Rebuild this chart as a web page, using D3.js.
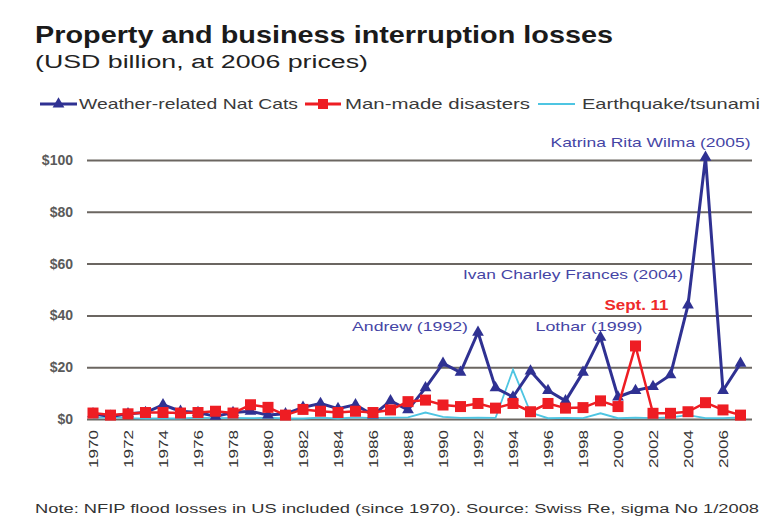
<!DOCTYPE html>
<html>
<head>
<meta charset="utf-8">
<script src="https://cdn.jsdelivr.net/npm/d3@7"></script>
<style>
  html, body { margin: 0; padding: 0; background: #fff; }
  svg { display: block; }
  text { font-family: "Liberation Sans", Arial, sans-serif; }
</style>
</head>
<body>
<svg id="chart" width="762" height="526"></svg>
<script>
// Annual insured losses, USD billion at 2006 prices, 1970–2007
const years = d3.range(1970, 2008);

const weather = [2, 1, 2, 2.5, 5.5, 3, 2.5, 1, 2.5, 3,
                 1.5, 2, 4.5, 6, 4, 5.5, 1.5, 7, 3.5, 12,
                 21.5, 18, 33.5, 12, 8.5, 18.5, 11, 7, 18, 31.5,
                 8.5, 11, 12.5, 17, 44, 101, 11, 21.5];

const manmade = [2.3, 1.5, 2, 2.5, 2.5, 2.3, 2.5, 3, 2.3, 5.5,
                 4.5, 1.5, 3.7, 3, 2.5, 3, 2.5, 3.5, 6.7, 7.3,
                 5.4, 4.8, 6, 4.2, 6, 2.8, 6, 4.2, 4.4, 7,
                 4.8, 28.2, 2.2, 2.2, 2.8, 6.3, 3.5, 1.5];

const quake = [0.3, 0.8, 0.3, 0.2, 0.2, 0.2, 0.5, 0.3, 0.4, 0.3,
               0.5, 0.2, 0.2, 0.5, 0.2, 0.6, 0.3, 0.5, 0.6, 2.5,
               0.8, 0.4, 0.5, 0.4, 19, 2.5, 0.3, 0.4, 0.3, 2.2,
               0.3, 0.5, 0.3, 0.6, 1.5, 0.3, 0.3, 0.6];

const yTicks = [0, 20, 40, 60, 80, 100];
const xTicks = d3.range(1970, 2008, 2);

const seriesNames = ["Weather-related Nat Cats", "Man-made disasters", "Earthquake/tsunami"];

// Event labels, placed relative to the data point they describe (left edge / baseline offsets)
const annotations = [
  { text: "Katrina Rita Wilma (2005)", year: 2005, value: 101, dx: -155, dy: -10, w: 200, color: "#4545a5", bold: false },
  { text: "Ivan Charley Frances (2004)", year: 2004, value: 44, dx: -225, dy: -26, w: 220, color: "#4545a5", bold: false },
  { text: "Sept. 11", year: 2001, value: 28.2, dx: -31, dy: -36, w: 64, color: "#ee2a2a", bold: true },
  { text: "Lothar (1999)", year: 1999, value: 31.5, dx: -65, dy: -6, w: 107, color: "#4545a5", bold: false },
  { text: "Andrew (1992)", year: 1992, value: 33.5, dx: -126, dy: -1, w: 116, color: "#4545a5", bold: false }
];

const colors = { weather: "#2f3192", manmade: "#ee1d23", quake: "#4ec5e2" };

const svg = d3.select("#chart");

const x = d3.scaleLinear().domain([1970, 2007]).range([93, 740.5]);
const y = d3.scaleLinear().domain([0, 100]).range([419, 160]);

const gridLeft = 87, gridRight = 752;

// Title block
svg.append("text").attr("x", 35).attr("y", 43)
  .attr("font-size", 24).attr("font-weight", "bold").attr("fill", "#1a1a1a")
  .attr("textLength", 578).attr("lengthAdjust", "spacingAndGlyphs")
  .text("Property and business interruption losses");
svg.append("text").attr("x", 35).attr("y", 68)
  .attr("font-size", 18).attr("fill", "#222")
  .attr("textLength", 333).attr("lengthAdjust", "spacingAndGlyphs")
  .text("(USD billion, at 2006 prices)");

// Legend
const legendY = 104;
const legend = svg.append("g");
const legendItems = [
  { key: "weather", x0: 40, x1: 77, tx: 79, tw: 219 },
  { key: "manmade", x0: 305, x1: 341, tx: 345, tw: 185 },
  { key: "quake", x0: 538, x1: 575, tx: 582, tw: 178 }
];
legendItems.forEach((it, i) => {
  legend.append("line").attr("x1", it.x0).attr("x2", it.x1)
    .attr("y1", legendY).attr("y2", legendY)
    .attr("stroke", colors[it.key]).attr("stroke-width", it.key === "quake" ? 1.8 : 3);
  const cx = (it.x0 + it.x1) / 2;
  if (it.key === "weather") {
    legend.append("path").attr("transform", `translate(${cx},${legendY})`)
      .attr("d", d3.symbol(d3.symbolTriangle, 60)()).attr("fill", colors.weather);
  } else if (it.key === "manmade") {
    legend.append("rect").attr("x", cx - 5).attr("y", legendY - 5)
      .attr("width", 10).attr("height", 10).attr("fill", colors.manmade);
  }
  legend.append("text").attr("x", it.tx).attr("y", legendY + 5)
    .attr("font-size", 15).attr("fill", "#3a3a3a")
    .attr("textLength", it.tw).attr("lengthAdjust", "spacingAndGlyphs")
    .text(seriesNames[i]);
});

// Y axis with gridlines
const yAxis = svg.append("g").attr("transform", `translate(${gridLeft},0)`)
  .call(d3.axisLeft(y).tickValues(yTicks).tickSize(-(gridRight - gridLeft))
    .tickPadding(14).tickFormat(d => "$" + d));
yAxis.select(".domain").remove();
yAxis.selectAll(".tick line").attr("stroke", "#6b6661").attr("stroke-width", 2);
yAxis.selectAll(".tick text").attr("font-size", 14).attr("font-family", "Liberation Sans, Arial, sans-serif")
  .attr("fill", "#5a5a5a").attr("font-weight", "bold");

// X axis labels (even years, rotated)
const xAxis = svg.append("g").attr("transform", `translate(0,${y(0)})`)
  .call(d3.axisBottom(x).tickValues(xTicks).tickSize(0).tickFormat(d3.format("d")));
xAxis.select(".domain").remove();
xAxis.selectAll(".tick text")
  .attr("font-size", 13).attr("font-family", "Liberation Sans, Arial, sans-serif")
  .attr("fill", "#333")
  .attr("text-anchor", "start")
  .attr("transform", "rotate(-90)")
  .attr("x", -49).attr("y", 0).attr("dy", "0.35em")
  .attr("textLength", 38).attr("lengthAdjust", "spacingAndGlyphs");

// Series lines
const line = d3.line().x((d, i) => x(years[i])).y(d => y(d));

svg.append("path").datum(quake).attr("d", line)
  .attr("fill", "none").attr("stroke", colors.quake).attr("stroke-width", 1.8);

svg.append("path").datum(weather).attr("d", line)
  .attr("fill", "none").attr("stroke", colors.weather).attr("stroke-width", 3)
  .attr("stroke-linejoin", "round");
svg.append("g").selectAll("path").data(weather).join("path")
  .attr("transform", (d, i) => `translate(${x(years[i])},${y(d)})`)
  .attr("d", d3.symbol(d3.symbolTriangle, 60)())
  .attr("fill", colors.weather);

svg.append("path").datum(manmade).attr("d", line)
  .attr("fill", "none").attr("stroke", colors.manmade).attr("stroke-width", 2.5)
  .attr("stroke-linejoin", "round");
svg.append("g").selectAll("rect").data(manmade).join("rect")
  .attr("x", (d, i) => x(years[i]) - 5.5).attr("y", d => y(d) - 5.5)
  .attr("width", 11).attr("height", 11)
  .attr("fill", colors.manmade);

// Event annotations
svg.append("g").selectAll("text").data(annotations).join("text")
  .attr("x", d => x(d.year) + d.dx)
  .attr("y", d => y(d.value) + d.dy)
  .attr("text-anchor", "start")
  .attr("font-size", d => d.bold ? 15 : 13.5)
  .attr("font-weight", d => d.bold ? "bold" : "normal")
  .attr("fill", d => d.color)
  .attr("textLength", d => d.w).attr("lengthAdjust", "spacingAndGlyphs")
  .text(d => d.text);

// Footnote
svg.append("text").attr("x", 35).attr("y", 513)
  .attr("font-size", 12.5).attr("fill", "#333")
  .attr("textLength", 724).attr("lengthAdjust", "spacingAndGlyphs")
  .text("Note: NFIP flood losses in US included (since 1970). Source: Swiss Re, sigma No 1/2008");
</script>
</body>
</html>
